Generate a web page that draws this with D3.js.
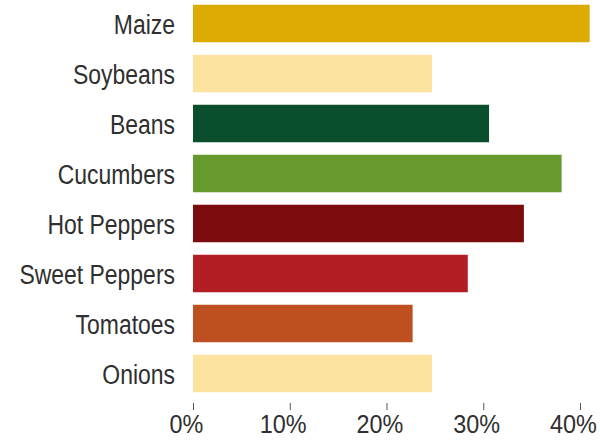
<!DOCTYPE html>
<html>
<head>
<meta charset="utf-8">
<script src="https://cdn.jsdelivr.net/npm/d3@7"></script>
<style>
  body { margin: 0; background: #fff; }
  text { font-family: "Liberation Sans", Arial, sans-serif; fill: #2f2f2f; }
</style>
</head>
<body>
<svg id="chart" width="600" height="440"></svg>
<script>
var crops = ["Maize", "Soybeans", "Beans", "Cucumbers", "Hot Peppers", "Sweet Peppers", "Tomatoes", "Onions"];
var shares = [41.0, 24.7, 30.6, 38.1, 34.2, 28.4, 22.7, 24.7];
var barColors = ["#dcab04", "#fde3a0", "#0b4e2b", "#669a2e", "#7b0b0c", "#b31d24", "#bd4f20", "#fde3a0"];
var tickValues = [0, 10, 20, 30, 40];

var squeeze = 0.85; // narrow the face to look like a condensed gothic

var svg = d3.select("#chart");

var xScale = d3.scaleLinear()
    .domain([0, 40])
    .range([193, 580]);

var yScale = d3.scaleBand()
    .domain(crops)
    .range([-1.5, 398.5])
    .paddingInner(0.25)
    .paddingOuter(0.125);

// bars
svg.selectAll("rect")
    .data(crops)
    .enter()
    .append("rect")
    .attr("x", xScale(0))
    .attr("y", (d) => yScale(d))
    .attr("width", (d, i) => xScale(shares[i]) - xScale(0))
    .attr("height", yScale.bandwidth())
    .attr("fill", (d, i) => barColors[i]);

// category labels
svg.selectAll(".crop-label")
    .data(crops)
    .enter()
    .append("text")
    .attr("class", "crop-label")
    .attr("transform", (d) => `translate(${xScale(0) - 18}, ${yScale(d) + yScale.bandwidth() / 2}) scale(${squeeze}, 1)`)
    .attr("dy", "0.4em")
    .attr("text-anchor", "end")
    .style("font-size", "27px")
    .text((d) => d);

// x axis: small ticks, no domain line
var xAxis = svg.append("g")
    .attr("transform", "translate(0, 403)")
    .call(d3.axisBottom(xScale)
        .tickValues(tickValues)
        .tickSize(7)
        .tickPadding(5)
        .tickFormat((d) => d + "%"));

xAxis.select(".domain").remove();
xAxis.selectAll("line").attr("stroke", "#555");
// labels in the original sit a little left of their ticks
xAxis.selectAll("text")
    .attr("fill", "#2f2f2f")
    .attr("transform", "translate(-7, 0) scale(0.9, 1)")
    .style("font-size", "26px")
    .style("font-family", "'Liberation Sans', Arial, sans-serif");
</script>
</body>
</html>
